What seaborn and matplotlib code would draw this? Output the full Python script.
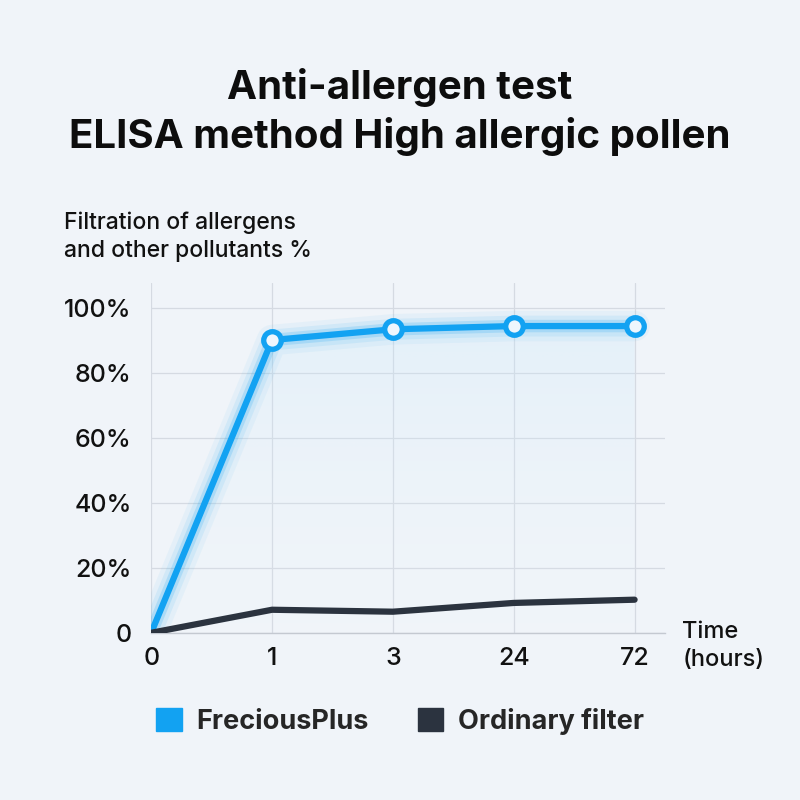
import numpy as np
import pandas as pd
import matplotlib
matplotlib.use('Agg')
import matplotlib.pyplot as plt
import matplotlib.patheffects as pe
from matplotlib.patches import Polygon, Patch
import seaborn as sns

# dữ liệu
time_labels = ['0', '1', '3', '24', '72']
frecious = [0, 90.2, 93.5, 94.5, 94.5]
ordinary = [0, 7.1, 6.5, 9.2, 10.2]

BG = '#f0f4f9'
BLUE = '#12a2f2'
DARK = '#2b333f'

sns.set_theme(style='whitegrid')
plt.rcParams['font.family'] = ['Inter', 'DejaVu Sans']

pos = np.arange(len(time_labels))
df = pd.DataFrame({
    'pos': np.concatenate([pos, pos]),
    'value': frecious + ordinary,
    'series': ['FreciousPlus'] * len(pos) + ['Ordinary filter'] * len(pos),
})

fig = plt.figure(figsize=(8, 8), dpi=100, facecolor=BG)
ax = fig.add_axes([0.189, 0.209, 0.642, 0.437])
ax.set_facecolor(BG)

# vùng tô gradient dưới đường xanh (đậm ở trên, nhạt dần xuống dưới)
cmap = matplotlib.colors.LinearSegmentedColormap.from_list('g', [(1, 1, 1, 0), (0.07, 0.63, 0.95, 1)])
img = ax.imshow(np.linspace(0.06, 0.27, 256).reshape(-1, 1), extent=[0, 4, 0, 100],
                origin='lower', aspect='auto', cmap=cmap, vmin=0, vmax=1, zorder=1)
poly = Polygon(list(zip(pos, frecious)) + [(4, 0), (0, 0)], closed=True, transform=ax.transData)
img.set_clip_path(poly)

sns.lineplot(data=df, x='pos', y='value', hue='series', palette=[BLUE, DARK],
             linewidth=4.5, legend=False, ax=ax, zorder=3)
blue_line, dark_line = ax.lines[0], ax.lines[1]
blue_line.set_solid_capstyle('round')
dark_line.set_solid_capstyle('round')
blue_line.set_path_effects([
    pe.Stroke(linewidth=22, foreground=BLUE, alpha=0.05),
    pe.Stroke(linewidth=15, foreground=BLUE, alpha=0.09),
    pe.Stroke(linewidth=9, foreground=BLUE, alpha=0.18),
    pe.Normal(),
])

# điểm tròn rỗng
ax.scatter(pos[1:], frecious[1:], s=160, facecolor='#eef6fd', edgecolor=BLUE,
           linewidth=3.8, zorder=5)

ax.set_xlim(0, 4.25)
ax.set_ylim(0, 107.7)
ax.set_xticks(pos)
ax.set_xticklabels(time_labels)
ax.set_yticks([0, 20, 40, 60, 80, 100])
ax.set_yticklabels(['0', '20%', '40%', '60%', '80%', '100%'])
ax.tick_params(axis='both', labelsize=18, colors='#111111', length=0)
for t in ax.get_xticklabels() + ax.get_yticklabels():
    t.set_fontweight('medium')
ax.tick_params(axis='y', pad=14)
ax.tick_params(axis='x', pad=10)
ax.grid(True, color='#d5dae2', linewidth=0.9)
ax.set_xlabel('')
ax.set_ylabel('')
for s in ['top', 'right', 'left']:
    ax.spines[s].set_visible(False)
ax.spines['bottom'].set_color('#c4c9d1')
ax.spines['bottom'].set_linewidth(1.0)

fig.text(0.5, 0.86, 'Anti-allergen test\nELISA method High allergic pollen',
         ha='center', va='center', fontsize=29, fontweight='bold', color='#0d0d0d',
         linespacing=1.3)
fig.text(0.08, 0.672, 'Filtration of allergens\nand other pollutants %',
         ha='left', va='bottom', fontsize=16.5, fontweight='medium', color='#111111',
         linespacing=1.35)
fig.text(0.853, 0.1925, 'Time\n(hours)', ha='left', va='center', fontsize=17,
         fontweight='medium', color='#111111', linespacing=1.3)

handles = [Patch(facecolor=BLUE, edgecolor=BLUE, label='FreciousPlus'),
           Patch(facecolor=DARK, edgecolor=DARK, label='Ordinary filter')]
leg = fig.legend(handles=handles, loc='center', bbox_to_anchor=(0.5, 0.098), ncol=2,
                 frameon=False, handlelength=0.95, handleheight=0.95, columnspacing=1.8,
                 handletextpad=0.55, prop={'size': 19.5, 'weight': 'bold'})

fig.savefig('out.png', dpi=100, facecolor=BG)
